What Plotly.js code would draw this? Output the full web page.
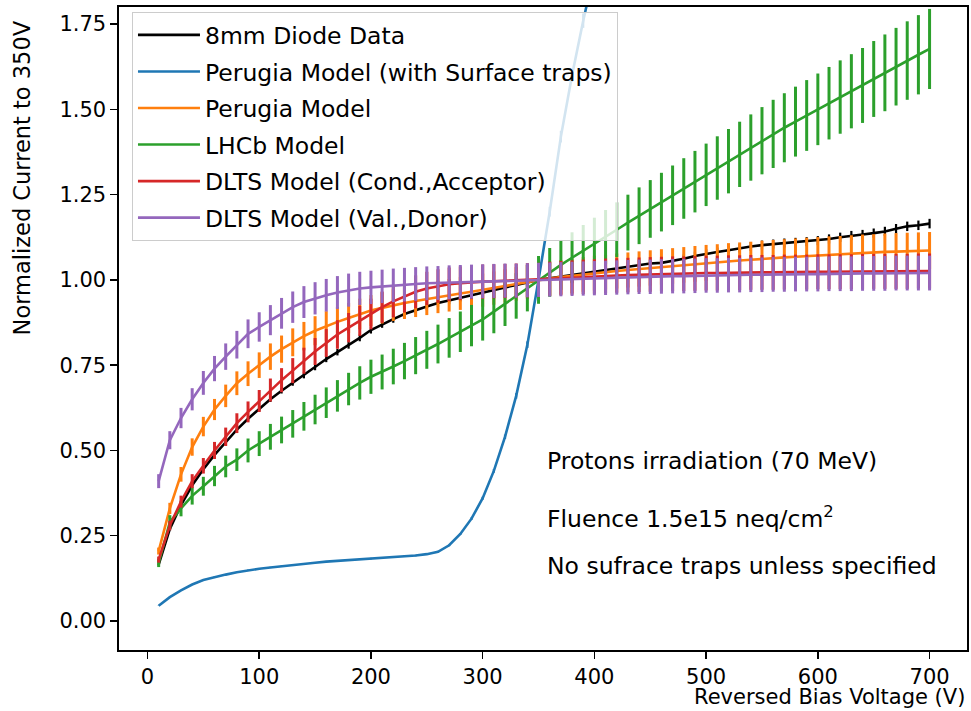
<!DOCTYPE html>
<html>
<head>
<meta charset="utf-8">
<script src="https://cdn.plot.ly/plotly-3.0.1.min.js"></script>
<style>html,body{margin:0;padding:0;background:#fff;}#chart{width:971px;height:711px;}</style>
</head>
<body>
<div id="chart"></div>
<script>
// Reversed bias voltage (V)
const voltage = [10,20,30,40,50,60,70,80,90,100,110,120,130,140,150,160,170,180,190,200,
  210,220,230,240,250,260,270,280,290,300,310,320,330,340,350,360,370,380,390,400,
  410,420,430,440,450,460,470,480,490,500,510,520,530,540,550,560,570,580,590,600,
  610,620,630,640,650,660,670,680,690,700];

const diodeData = [0.165,0.27,0.34,0.398,0.445,0.487,0.524,0.561,0.593,0.622,0.65,0.675,0.698,0.72,0.744,0.768,0.788,0.808,0.83,0.853,
  0.87,0.885,0.9,0.912,0.922,0.932,0.94,0.948,0.955,0.962,0.97,0.978,0.985,0.993,1.0,1.005,1.01,1.015,1.02,1.025,
  1.03,1.035,1.04,1.045,1.048,1.05,1.055,1.062,1.07,1.077,1.082,1.087,1.093,1.098,1.102,1.105,1.108,1.11,1.112,1.115,
  1.12,1.125,1.13,1.133,1.137,1.142,1.15,1.157,1.16,1.165];

const voltageSurface = [10,20,30,40,50,60,70,80,90,100,110,120,130,140,150,160,170,180,190,200,
  210,220,230,240,250,260,270,280,290,300,310,320,330,340,350,360,370,380,390,400,410];
const perugiaSurface = [0.045,0.07,0.09,0.107,0.12,0.129,0.136,0.143,0.149,0.153,0.157,0.161,0.164,0.168,0.171,0.174,0.176,0.178,0.181,0.183,
  0.185,0.188,0.19,0.192,0.196,0.203,0.222,0.255,0.3,0.36,0.44,0.54,0.66,0.81,1.0,1.2,1.42,1.6,1.76,1.9,2.05];

const perugia = [0.205,0.33,0.43,0.51,0.57,0.62,0.66,0.697,0.725,0.75,0.775,0.797,0.817,0.835,0.851,0.865,0.877,0.888,0.9,0.91,
  0.918,0.926,0.932,0.938,0.944,0.95,0.955,0.96,0.965,0.97,0.976,0.982,0.988,0.994,1.0,1.004,1.008,1.012,1.016,1.02,
  1.023,1.026,1.029,1.032,1.035,1.038,1.041,1.044,1.047,1.05,1.052,1.055,1.057,1.059,1.062,1.064,1.066,1.068,1.07,1.072,
  1.074,1.075,1.077,1.079,1.08,1.082,1.083,1.084,1.085,1.086];

const lhcb = [0.17,0.29,0.33,0.367,0.395,0.425,0.453,0.473,0.5,0.52,0.54,0.56,0.578,0.6,0.62,0.64,0.66,0.68,0.698,0.716,
  0.73,0.746,0.762,0.778,0.795,0.812,0.83,0.848,0.866,0.884,0.907,0.93,0.953,0.976,1.0,1.022,1.044,1.065,1.085,1.105,
  1.126,1.147,1.168,1.188,1.208,1.228,1.248,1.268,1.288,1.308,1.328,1.348,1.368,1.388,1.408,1.428,1.446,1.464,1.482,1.5,
  1.518,1.536,1.553,1.57,1.589,1.607,1.625,1.643,1.66,1.677];

const dltsAcceptor = [0.18,0.28,0.35,0.41,0.455,0.5,0.54,0.58,0.613,0.645,0.677,0.706,0.734,0.763,0.79,0.815,0.84,0.86,0.88,0.9,
  0.92,0.937,0.952,0.965,0.975,0.982,0.987,0.99,0.993,0.995,0.996,0.997,0.998,0.999,1.0,1.003,1.005,1.007,1.009,1.01,
  1.012,1.013,1.014,1.015,1.016,1.017,1.018,1.018,1.019,1.02,1.02,1.021,1.021,1.022,1.022,1.022,1.023,1.023,1.023,1.024,
  1.024,1.024,1.024,1.025,1.025,1.025,1.025,1.025,1.026,1.026];

const dltsDonor = [0.41,0.53,0.595,0.65,0.698,0.74,0.775,0.81,0.842,0.862,0.882,0.902,0.92,0.935,0.946,0.955,0.963,0.97,0.975,0.978,
  0.981,0.984,0.986,0.988,0.99,0.991,0.993,0.994,0.995,0.996,0.997,0.998,0.998,0.999,1.0,1.001,1.002,1.003,1.004,1.005,
  1.006,1.007,1.008,1.009,1.009,1.01,1.011,1.011,1.012,1.013,1.013,1.014,1.014,1.015,1.015,1.016,1.016,1.017,1.017,1.017,
  1.018,1.018,1.018,1.019,1.019,1.019,1.02,1.02,1.02,1.02];

// relative uncertainties
const relErrData = 0.012, relErrSurface = 0.012, relErrPerugia = 0.05, relErrLhcb = 0.07, relErrAcc = 0.05, relErrDon = 0.05;

const seriesNames = ['8mm Diode Data','Perugia Model (with Surface traps)','Perugia Model','LHCb Model','DLTS Model (Cond.,Acceptor)','DLTS Model (Val.,Donor)'];
const seriesColors = ['#000000','#1f77b4','#ff7f0e','#2ca02c','#d62728','#9467bd'];

function mk(x, y, rel, i, thick) {
  return {
    type: 'scatter', mode: 'lines', x: x, y: y, name: seriesNames[i],
    legendgroup: 'g' + i,
    line: {color: seriesColors[i], width: 2.6},
    error_y: {type: 'data', array: y.map(v => v * rel), visible: true, color: seriesColors[i], thickness: thick, width: 0}
  };
}

const traces = [
  mk(voltage, diodeData, relErrData, 0, 2.2),
  mk(voltageSurface, perugiaSurface, relErrSurface, 1, 2.2),
  mk(voltage, perugia, relErrPerugia, 2, 3),
  mk(voltage, lhcb, relErrLhcb, 3, 3),
  mk(voltage, dltsAcceptor, relErrAcc, 4, 3),
  mk(voltage, dltsDonor, relErrDon, 5, 3)
];

const F = 'DejaVu Sans, Noto Sans, sans-serif';
const layout = {
  width: 971, height: 711,
  margin: {l: 119, r: 4, t: 7, b: 61},
  paper_bgcolor: '#fff', plot_bgcolor: '#fff',
  font: {family: F, color: '#000', size: 21},
  showlegend: true,
  legend: {
    x: 0.0153, y: 0.992, xanchor: 'left', yanchor: 'top',
    bgcolor: 'rgba(255,255,255,0.8)', bordercolor: '#cccccc', borderwidth: 1,
    font: {family: F, size: 23.5, color: '#000'},
    traceorder: 'grouped', tracegroupgap: 3, itemwidth: 62
  },
  xaxis: {
    range: [-25.5, 733.5], tickmode: 'array', tickvals: [0,100,200,300,400,500,600,700],
    ticks: 'outside', ticklen: 7, tickwidth: 1.5, tickcolor: '#000',
    showline: true, mirror: true, linecolor: '#000', linewidth: 1.6,
    showgrid: false, zeroline: false, tickfont: {size: 21}
  },
  yaxis: {
    range: [-0.085, 1.8], tickmode: 'linear', tick0: 0, dtick: 0.25, tickformat: '.2f',
    ticks: 'outside', ticklen: 7, tickwidth: 1.5, tickcolor: '#000',
    showline: true, mirror: true, linecolor: '#000', linewidth: 1.6,
    showgrid: false, zeroline: false, tickfont: {size: 21}
  },
  annotations: [
    {xref: 'paper', yref: 'paper', x: 1, y: -0.0945, xanchor: 'right', yanchor: 'bottom', showarrow: false,
     text: 'Reversed Bias Voltage (V)', font: {size: 21}},
    {xref: 'paper', yref: 'paper', x: -0.1144, y: 0.735, xanchor: 'center', yanchor: 'middle', showarrow: false,
     textangle: -90, text: 'Normalized Current to 350V', font: {size: 22.5}},
    {xref: 'x', yref: 'y', x: 355.4, y: 0.468, xanchor: 'left', yanchor: 'middle', showarrow: false,
     text: 'Protons irradiation (70 MeV)', font: {size: 23.5}},
    {xref: 'x', yref: 'y', x: 355.4, y: 0.304, xanchor: 'left', yanchor: 'middle', showarrow: false,
     text: 'Fluence 1.5e15 neq/cm<sup>2</sup>', font: {size: 23.5}},
    {xref: 'x', yref: 'y', x: 355.4, y: 0.161, xanchor: 'left', yanchor: 'middle', showarrow: false,
     text: 'No sufrace traps unless specified', font: {size: 23.5}}
  ]
};

Plotly.newPlot('chart', traces, layout, {staticPlot: true, displayModeBar: false});
</script>
</body>
</html>
